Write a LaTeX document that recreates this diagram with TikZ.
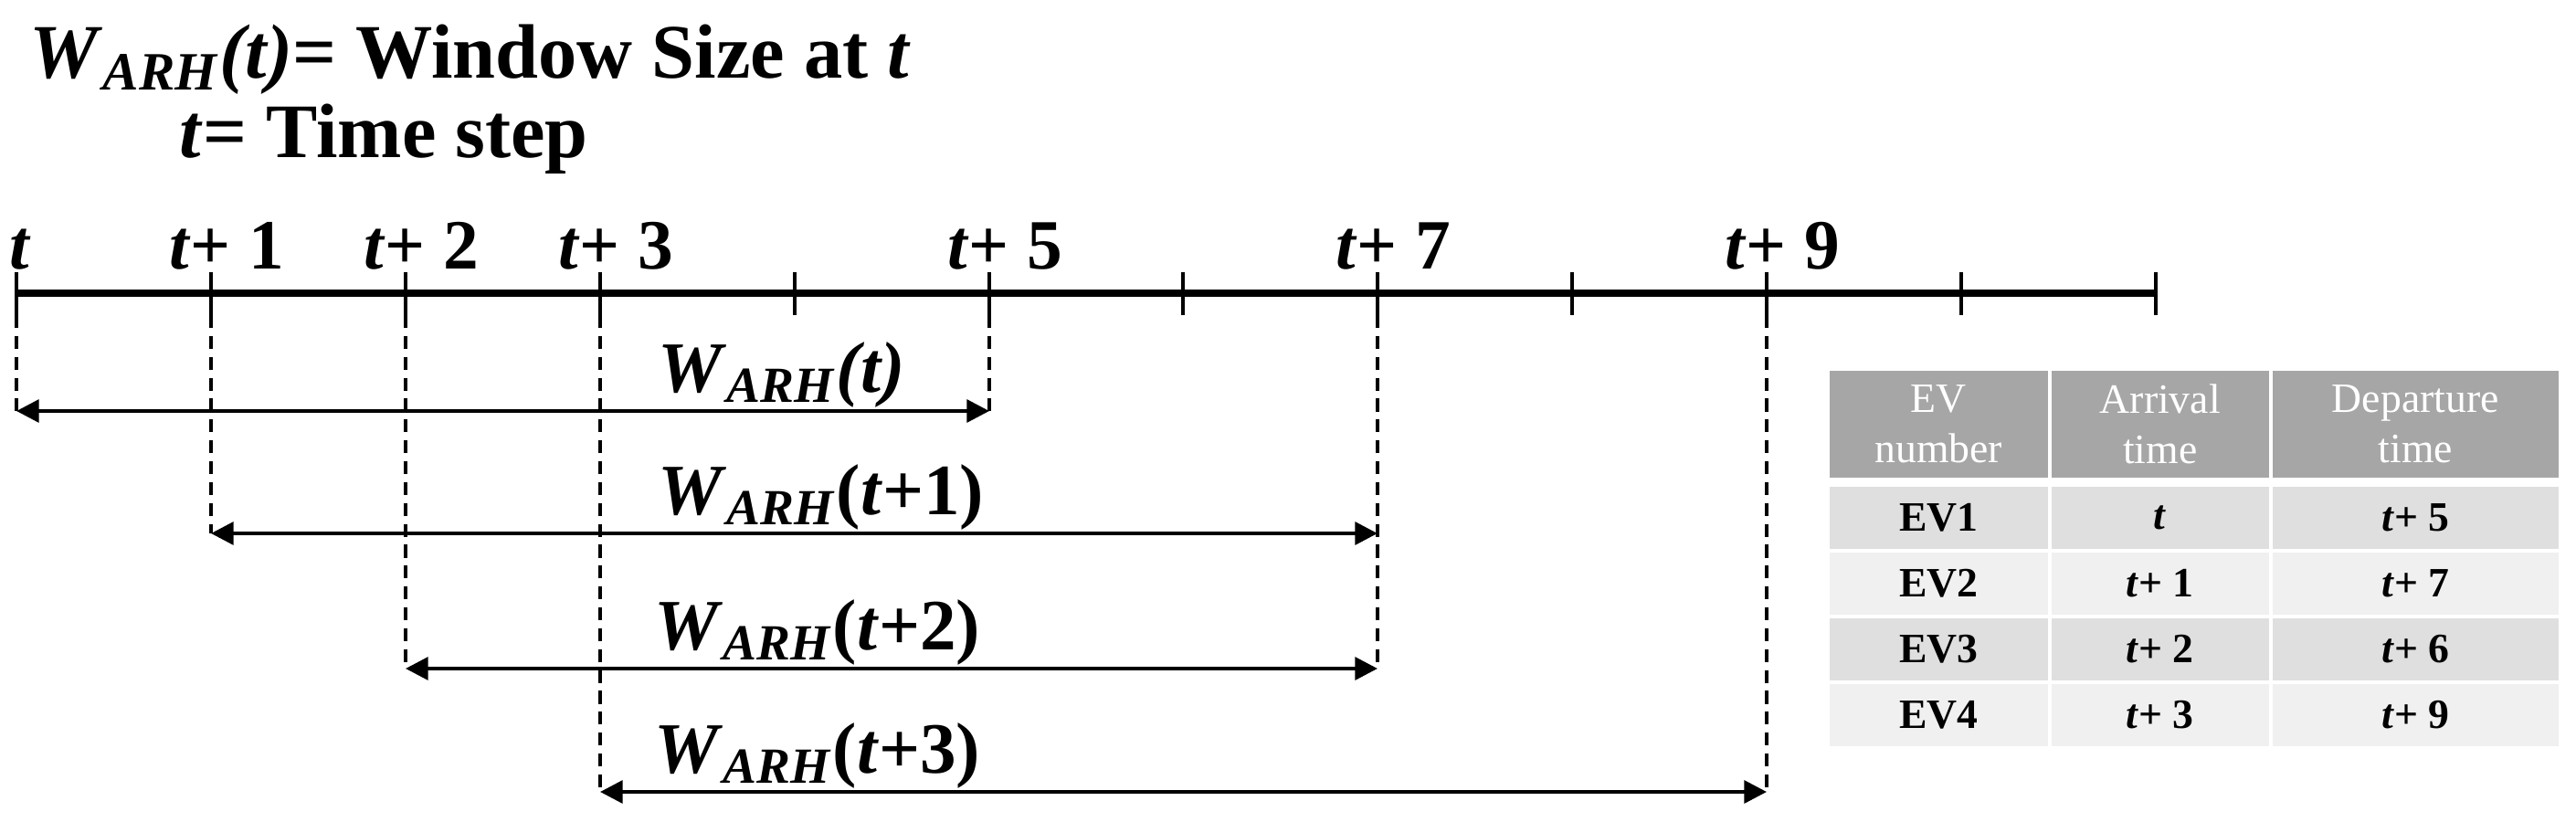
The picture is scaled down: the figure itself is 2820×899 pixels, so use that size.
\documentclass[tikz,border=0pt]{standalone}
\usepackage{fontspec}
\setmainfont{Liberation Serif}
\usetikzlibrary{arrows.meta,positioning}
\definecolor{hgray}{RGB}{166,166,166}
\definecolor{rowa}{RGB}{223,223,223}
\definecolor{rowb}{RGB}{240,240,240}
\newcommand{\tp}[1]{\textit{t}+ #1}
\newcommand{\warh}{\textit{W}\textsubscript{\textit{ARH}}}

\begin{document}
\begin{tikzpicture}[x=0.01cm,y=-0.01cm,
  font=\fontsize{22.5}{26}\selectfont\bfseries,
  axl/.style={line width=2.3pt},
  tks/.style={line width=1.3pt},
  dsh/.style={line width=0.9pt,dash pattern=on 4pt off 2.5pt},
  arr/.style={line width=1.2pt,{Triangle[length=7pt,width=7pt]}-{Triangle[length=7pt,width=7pt]}},
  ttx/.style={anchor=base west,inner sep=0pt,font=\fontsize{24}{28}\selectfont\bfseries},
  lbl/.style={anchor=base,inner sep=0pt,font=\fontsize{22}{26}\selectfont\bfseries},
  wl/.style={anchor=south west,inner sep=0pt},
  cell/.style={anchor=north west,inner sep=0pt,align=center,
               minimum height=0.68cm,font=\fontsize{13}{15}\selectfont\bfseries},
  hd/.style={cell,fill=hgray,text=white,minimum height=1.17cm,
             font=\fontsize{13}{15.5}\selectfont},
  ra/.style={cell,fill=rowa},
  rb/.style={cell,fill=rowb},
  c1/.style={minimum width=2.39cm},
  c2/.style={minimum width=2.38cm},
  c3/.style={minimum width=3.13cm},
  ]
  \useasboundingbox (0,0) rectangle (2820,899);
  % legend
  \node[ttx] (ttl) at (32,85)  {\warh\textit{(t)}= Window Size at \textit{t}};
  \node[ttx] (stp) at (196,172) {\textit{t}= Time step};
  % time axis
  \coordinate (a0)  at (18,321);
  \coordinate (a11) at (2360,321);
  \draw[axl] (a0) -- (a11);
  \draw[tks] (18,298) -- (18,345);
  \draw[tks] (231,298) -- (231,345);
  \draw[tks] (444,298) -- (444,345);
  \draw[tks] (657,298) -- (657,345);
  \draw[tks] (870,298) -- (870,345);
  \draw[tks] (1083,298) -- (1083,345);
  \draw[tks] (1295,298) -- (1295,345);
  \draw[tks] (1508,298) -- (1508,345);
  \draw[tks] (1721,298) -- (1721,345);
  \draw[tks] (1934,298) -- (1934,345);
  \draw[tks] (2147,298) -- (2147,345);
  \draw[tks] (2360,298) -- (2360,345);
  \node[lbl] (l0) at (22,294)   {\textit{t}};
  \node[lbl] (l1) at (248,294)  {\tp{1}};
  \node[lbl] (l2) at (461,294)  {\tp{2}};
  \node[lbl] (l3) at (674,294)  {\tp{3}};
  \node[lbl] (l5) at (1100,294) {\tp{5}};
  \node[lbl] (l7) at (1525,294) {\tp{7}};
  \node[lbl] (l9) at (1951,294) {\tp{9}};
  % windows
  \coordinate (k0) at (18,345);
  \coordinate (k1) at (231,345);
  \coordinate (k2) at (444,345);
  \coordinate (k3) at (657,345);
  \coordinate (k5) at (1083,345);
  \coordinate (k7) at (1508,345);
  \coordinate (k9) at (1934,345);
  \coordinate (s0) at (18,450);   \coordinate (e0) at (1083,450);
  \coordinate (s1) at (231,584);  \coordinate (e1) at (1508,584);
  \coordinate (s2) at (444,732);  \coordinate (e2) at (1508,732);
  \coordinate (s3) at (657,867);  \coordinate (e3) at (1934,867);
  \draw[dsh] (k0) -- (s0);
  \draw[dsh] (k5) -- (e0);
  \draw[dsh] (k1) -- (s1);
  \draw[dsh] (k7) -- (e2);
  \draw[dsh] (k2) -- (s2);
  \draw[dsh] (k3) -- (s3);
  \draw[dsh] (k9) -- (e3);
  \draw[arr] (s0) -- (e0);
  \draw[arr] (s1) -- (e1);
  \draw[arr] (s2) -- (e2);
  \draw[arr] (s3) -- (e3);
  \node[wl] (w0) at (720,447) {\warh\textit{(t)}};
  \node[wl] (w1) at (720,581) {\warh(\textit{t}+1)};
  \node[wl] (w2) at (716,729) {\warh(\textit{t}+2)};
  \node[wl] (w3) at (716,864) {\warh(\textit{t}+3)};
  % table
  \node[hd,c1] (hev)  at (2002,405) {EV\\number};
  \node[hd,c2] (harr) at (2245,405) {Arrival\\time};
  \node[hd,c3] (hdep) at (2487,405) {Departure\\time};
  \node[ra,c1] (ev1) at (2002,532) {EV1};
  \node[ra,c2] (a1)  at (2245,532) {\textit{t}};
  \node[ra,c3] (d1)  at (2487,532) {\tp{5}};
  \node[rb,c1] (ev2) at (2002,604) {EV2};
  \node[rb,c2] (a2)  at (2245,604) {\tp{1}};
  \node[rb,c3] (d2)  at (2487,604) {\tp{7}};
  \node[ra,c1] (ev3) at (2002,676) {EV3};
  \node[ra,c2] (a3)  at (2245,676) {\tp{2}};
  \node[ra,c3] (d3)  at (2487,676) {\tp{6}};
  \node[rb,c1] (ev4) at (2002,748) {EV4};
  \node[rb,c2] (a4)  at (2245,748) {\tp{3}};
  \node[rb,c3] (d4)  at (2487,748) {\tp{9}};
\end{tikzpicture}
\end{document}
